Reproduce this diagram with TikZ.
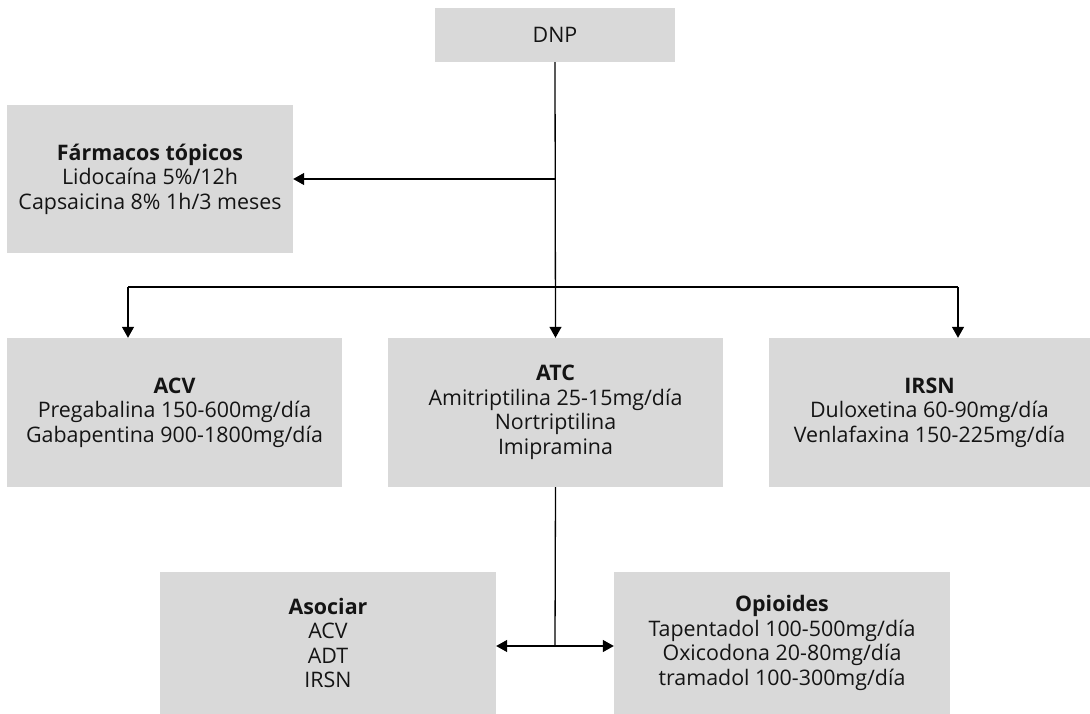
\documentclass[tikz,border=0pt]{standalone}
\usepackage{fontspec}
\setmainfont{Open Sans}
\usetikzlibrary{arrows.meta}
\definecolor{boxgray}{HTML}{D9D9D9}
\definecolor{txt}{HTML}{141414}
\begin{document}
\begin{tikzpicture}[x=1pt,y=1pt,
  box/.style={fill=boxgray,draw=none,inner sep=0pt,align=center,text=txt,
    font=\fontsize{21.4}{24.5}\selectfont},
  conn/.style={line width=1.3pt,draw=black},
  arr/.style={conn,-{Triangle[length=11pt,width=12pt]}}]
\useasboundingbox (0,0) rectangle (1090,-714);
\node[box,minimum width=240,minimum height=54] (dnp) at (555,-35) {DNP};
\node[box,minimum width=286,minimum height=148] (top) at (150,-179)
  {\textbf{Fármacos tópicos}\\Lidocaína 5\%/12h\\Capsaicina 8\% 1h/3 meses};
\node[box,minimum width=335,minimum height=149] (acv) at (174.5,-412.5)
  {\textbf{ACV}\\Pregabalina 150-600mg/día\\Gabapentina 900-1800mg/día};
\node[box,minimum width=335,minimum height=149] (atc) at (555.5,-412.5)
  {\textbf{ATC}\\Amitriptilina 25-15mg/día\\Nortriptilina\\Imipramina};
\node[box,minimum width=321,minimum height=149] (irsn) at (929.5,-412.5)
  {\textbf{IRSN}\\Duloxetina 60-90mg/día\\Venlafaxina 150-225mg/día};
\node[box,minimum width=336,minimum height=142] (asoc) at (328,-643)
  {\textbf{Asociar}\\ACV\\ADT\\IRSN};
\node[box,minimum width=336,minimum height=142] (opi) at (782,-643)
  {\textbf{Opioides}\\Tapentadol 100-500mg/día\\Oxicodona 20-80mg/día\\tramadol 100-300mg/día};
\coordinate (jt) at (555,-179);
\coordinate (jl) at (128,-287);
\coordinate (jr) at (958,-287);
\coordinate (jb) at (555,-646);
\draw[arr] (dnp.south) -- (atc.north);
\draw[arr] (jt) -- (top.east);
\draw[conn] (jl) -- (jr);
\draw[arr] (jl) -- (jl |- acv.north);
\draw[arr] (jr) -- (jr |- irsn.north);
\draw[conn] (atc.south) -- (jb);
\draw[arr] (jb) -- (jb -| asoc.east);
\draw[arr] (jb) -- (jb -| opi.west);
\end{tikzpicture}
\end{document}
